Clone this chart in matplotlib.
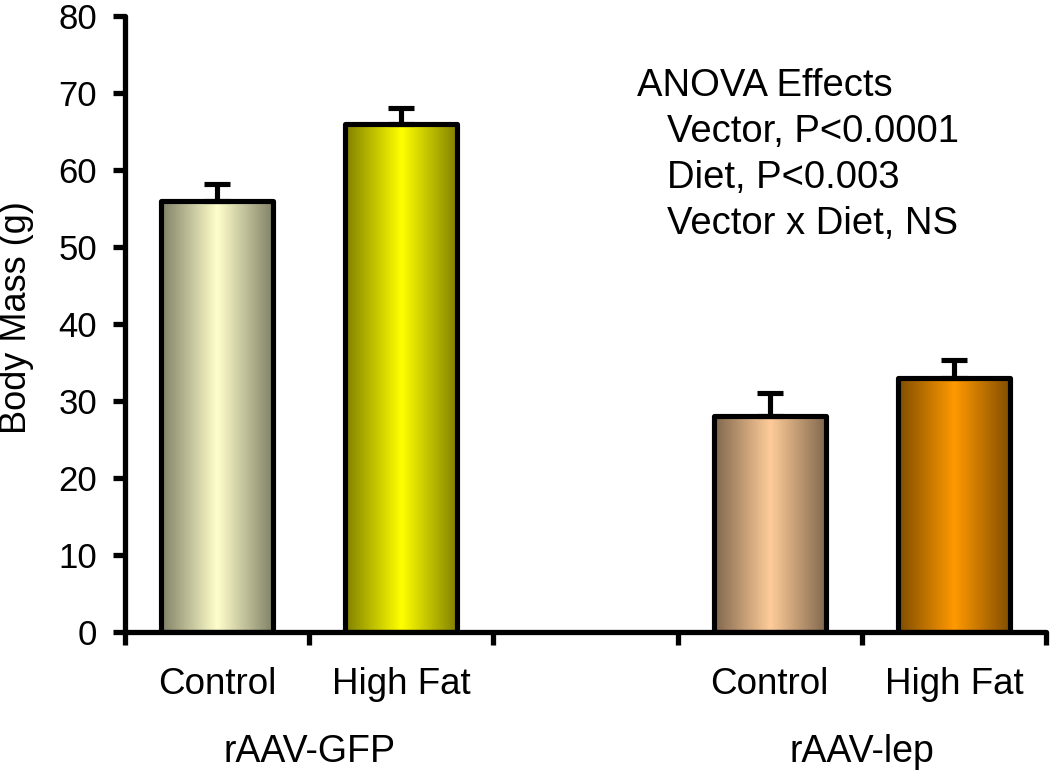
import numpy as np
import matplotlib
matplotlib.use("Agg")
import matplotlib.pyplot as plt
from matplotlib.colors import to_rgb
import matplotlib.transforms as mtransforms

# ---- data ----
categories = ["Control", "High Fat", "Control", "High Fat"]
groups = ["rAAV-GFP", "rAAV-lep"]
values = [56, 66, 28, 33]
errors = [2.2, 2.0, 3.0, 2.3]
center_colors = ["#FFFFCC", "#FFFF00", "#FFCC99", "#FF9900"]
yticks = [0, 10, 20, 30, 40, 50, 60, 70, 80]
ylabel = "Body Mass (g)"
anova_title = "ANOVA Effects"
anova_lines = ["Vector, P<0.0001", "Diet, P<0.003", "Vector x Diet, NS"]

plt.rcParams["font.family"] = ["Liberation Sans", "DejaVu Sans"]

fig = plt.figure(figsize=(10.5, 7.8), dpi=100)
W, H = 1050, 780
ax = fig.add_axes([125 / W, 1 - 632 / H, (1046 - 125) / W, (632 - 16) / H])

per_group = 2
gap = 1
xs = []
for g in range(len(groups)):
    for j in range(per_group):
        xs.append(g * (per_group + gap) + j + 0.5)
n_slots = len(groups) * per_group + (len(groups) - 1) * gap

bar_w = 0.61
bars = ax.bar(xs, values, width=bar_w, facecolor="none", edgecolor="black",
              linewidth=3.7, zorder=3, joinstyle="round")

# gradient fills (dark edges, light center)
u = np.linspace(0, 1, 256)
t = 1 - np.abs(2 * u - 1)
for b, c in zip(bars, center_colors):
    cc = np.array(to_rgb(c))
    ec = cc * 0.5
    img = ec[None, :] + (cc - ec)[None, :] * t[:, None]
    img = img[None, :, :]
    x0 = b.get_x()
    im = ax.imshow(img, extent=[x0, x0 + b.get_width(), 0, b.get_height()],
                   aspect="auto", zorder=2, interpolation="bilinear")
    im.set_clip_path(b)

ax.errorbar(xs, values, yerr=[np.zeros(len(values)), errors], fmt="none",
            ecolor="black", elinewidth=3.7, capsize=9.5, capthick=3.7, zorder=4)

ax.set_xlim(0, n_slots)
ax.set_ylim(yticks[0], yticks[-1])
ax.set_yticks(yticks)
ax.set_xticks(np.arange(0, n_slots + 1))
ax.set_xticklabels([])
ax.set_xticks(xs, minor=True)
ax.set_xticklabels(categories, minor=True)

for s in ["top", "right"]:
    ax.spines[s].set_visible(False)
for s in ["left", "bottom"]:
    ax.spines[s].set_linewidth(3.8)
    ax.spines[s].set_capstyle("round")

ax.tick_params(axis="y", which="major", direction="out", length=9, width=3.8,
               labelsize=25, pad=11)
ax.tick_params(axis="x", which="major", direction="out", length=9, width=3.8)
ax.tick_params(axis="x", which="minor", length=0, labelsize=26.5, pad=25)

# y label
fig.text(17 / W, 1 - 318 / H, ylabel, rotation=90, ha="center", va="center",
         fontsize=26)

# group labels
trans = mtransforms.blended_transform_factory(ax.transData, fig.transFigure)
for g, name in enumerate(groups):
    gx = np.mean(xs[g * per_group:(g + 1) * per_group])
    ax.text(gx, 1 - 752 / H, name, transform=trans, ha="center", va="center",
            fontsize=27)

# ANOVA annotation
fig.text(637 / W, 1 - 86 / H, anova_title, ha="left", va="center", fontsize=27.5)
for i, line in enumerate(anova_lines):
    fig.text(667 / W, 1 - (132 + 46 * i) / H, line, ha="left", va="center",
             fontsize=27.5)

fig.savefig("out.png", dpi=100)
